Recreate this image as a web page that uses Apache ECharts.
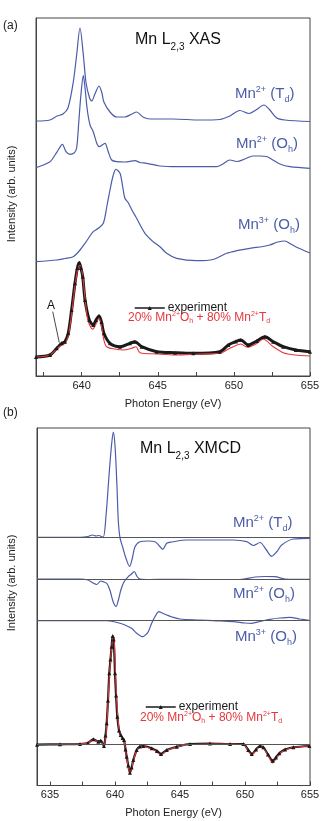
<!DOCTYPE html>
<html>
<head>
<meta charset="UTF-8">
<title>Mn L2,3 XAS / XMCD</title>
<script src="https://cdn.jsdelivr.net/npm/echarts@6/dist/echarts.min.js"></script>
<style>
  html, body { margin: 0; padding: 0; background: #fff; }
  #main { width: 323px; height: 821px; }
</style>
</head>
<body>
<div id="main"></div>
<script>
// ---- panel (a): XAS, [photon energy eV, intensity arb.] ----
var xasTd = [[637.00,255],[637.92,256],[638.38,260],[638.77,262],[639.10,268],[639.45,294],[639.67,321],[639.89,348],[640.11,321],[640.28,294],[640.50,279],[640.66,275],[640.87,282],[641.14,290],[641.33,283],[641.46,274],[641.86,264],[642.30,259],[642.84,259],[643.30,262],[643.61,264],[644.03,259],[644.49,257],[646.00,257],[647.77,256],[649.08,256.5],[649.74,260],[650.39,265.5],[650.99,262.5],[651.45,266],[651.97,271],[652.36,266],[652.82,258],[653.35,256],[655.00,254.5]];
var xasOh = [[637.00,208.3],[637.92,214.3],[638.25,221],[638.46,226],[638.73,231.7],[638.97,224.3],[639.23,221.7],[639.50,223],[639.67,228],[639.82,256],[639.95,281],[640.11,300.3],[640.22,288],[640.37,266],[640.55,251],[640.76,244.3],[641.01,232],[641.16,229.3],[641.53,232.7],[641.73,225],[641.97,216],[642.30,214.3],[642.84,214],[643.50,215.3],[643.83,213.5],[644.27,212.7],[645.14,210],[646.24,209.3],[647.77,209.3],[648.86,209.3],[649.28,212],[649.74,216],[650.20,214.5],[650.72,217],[651.25,220],[651.71,220],[652.15,219.5],[652.56,216],[653.02,212],[653.68,209.3],[655.00,207.7]];
var xasMn3 = [[637.00,114.3],[638.36,116],[638.90,117.5],[639.45,119.3],[639.89,126],[640.22,132.7],[640.76,144.3],[641.09,147.7],[641.42,152.7],[641.66,170],[641.86,186],[642.06,200],[642.25,206.7],[642.52,202.7],[642.71,188],[642.84,177.7],[643.06,173.3],[643.30,166],[643.61,157.7],[644.16,142.7],[644.70,134.3],[645.14,129.3],[645.58,122.7],[646.24,117.7],[647.55,115.3],[648.64,116.5],[649.52,122.7],[650.18,125.3],[651.05,127.7],[651.91,129.5],[652.36,131],[652.89,134],[653.35,135],[653.74,132],[654.12,128.7],[655.00,123]];
var xasExp = [[637.00,19],[637.92,21],[638.36,27.7],[638.69,32.7],[638.90,34.3],[639.12,42.7],[639.34,66],[639.56,92.7],[639.72,108],[639.84,113.3],[639.95,108],[640.07,99.3],[640.22,76],[640.50,56],[640.76,51],[640.94,56],[641.14,60],[641.30,54],[641.46,42.7],[641.86,32.7],[642.52,29.3],[643.17,32.7],[643.50,34.3],[643.94,29.3],[644.93,24.3],[646.13,23.3],[647.33,22.7],[649.08,24.3],[649.63,31],[650.13,34.5],[650.46,36],[650.94,31],[651.51,35],[652.04,39.3],[652.58,34.3],[653.24,29.3],[654.07,26],[655.00,24.3]];
var xasCalc = [[637.00,19],[637.92,21],[638.36,27],[638.69,31],[638.90,32.5],[639.12,40],[639.34,62],[639.56,90],[639.76,108],[639.89,111],[640.07,100],[640.22,78],[640.41,56],[640.72,46.7],[640.94,52],[641.14,57.7],[641.30,50],[641.46,36],[641.64,29.3],[642.19,27],[642.73,26],[643.24,27.5],[643.57,29.3],[643.83,23.3],[644.93,22],[646.13,21],[647.77,22],[649.08,22.7],[649.74,27.7],[650.46,32],[650.88,28.7],[651.45,32],[651.93,36.7],[652.58,29.3],[653.24,23.3],[654.01,21],[655.00,20]];
var arrowA = [[638.10,64.3],[638.53,33.3]];

// ---- panel (b): XMCD ----
var xmcdTd = [[634.00,248.2],[637.31,248.2],[637.92,249],[638.27,250.5],[638.54,249.5],[638.73,250],[639.08,248.2],[639.31,270],[639.54,310],[639.73,340],[639.87,353.5],[640.00,340],[640.15,300],[640.25,265.5],[640.38,248.2],[640.62,237],[640.85,227],[641.12,219],[641.31,226],[641.54,238.8],[641.92,243.8],[642.54,244.5],[643.08,243.8],[643.38,240],[643.67,236.2],[643.98,242.2],[644.38,243.5],[645.52,245.5],[647.31,245.5],[649.10,245.5],[650.13,243.8],[650.64,240],[651.15,243],[651.62,236],[652.05,229.2],[652.46,234],[652.82,240.5],[653.72,246.5],[655.00,247.2]];
var xmcdOh = [[634.00,206.5],[637.31,206.5],[637.92,205.5],[638.31,202.5],[638.59,201],[638.90,204.5],[639.15,203.5],[639.38,202],[639.62,195],[639.85,184],[640.08,179],[640.27,186],[640.46,196],[640.69,203.5],[641.02,208.8],[641.23,211],[641.48,214],[641.69,209],[641.92,206.5],[642.69,206],[643.98,206.2],[646.54,206],[649.62,206],[650.77,208.5],[651.54,209],[652.31,208.8],[653.08,206.5],[655.00,206.2]];
var xmcdMn3 = [[634.00,164.8],[639.36,164.8],[639.85,164],[640.38,162.2],[640.85,160],[641.28,157.2],[641.67,152.2],[642.13,148.8],[642.38,151],[642.56,153.8],[642.82,162.2],[643.08,169],[643.38,173.8],[643.62,172.5],[643.98,170.5],[644.38,168.5],[645.00,166.5],[646.54,165.5],[647.56,164.8],[649.10,163.8],[650.00,162.5],[650.52,162.2],[651.15,164],[651.92,166.2],[652.69,167.5],[653.46,168.2],[654.23,166.5],[655.00,165]];
var xmcdExp = [[634.00,40.8],[635.77,41.2],[637.31,41.5],[637.92,42.5],[638.33,46.2],[638.72,43.8],[638.90,44.8],[639.15,39.5],[639.27,50],[639.36,62.2],[639.46,85],[639.56,112.2],[639.65,126],[639.74,138.8],[639.82,149.5],[639.90,146],[640.00,112.2],[640.08,90],[640.18,68.8],[640.31,55],[640.44,50.5],[640.58,47.5],[640.69,45.5],[640.81,36],[640.90,28.8],[641.02,20],[641.15,12.8],[641.28,18],[641.41,25.5],[641.67,35.5],[641.92,39],[642.18,39.5],[642.82,37.2],[643.23,34.5],[643.54,31.5],[643.98,35.5],[644.75,38.8],[645.77,41.5],[647.31,42],[648.85,41.5],[649.87,41.5],[650.25,35.5],[650.52,31.5],[650.85,36],[651.15,39.5],[651.41,38.2],[651.77,31],[652.13,24.8],[652.38,28],[652.64,32.2],[653.08,36],[653.72,38.2],[654.95,39.5]];
var xmcdCalc = [[634.00,41],[635.77,41.2],[637.31,41.5],[637.92,42.5],[638.33,46],[638.72,43.5],[638.90,44.5],[639.15,40],[639.27,48],[639.36,60],[639.46,82],[639.56,108],[639.65,124],[639.74,138],[639.87,149],[639.95,142],[640.04,112],[640.12,88],[640.22,68],[640.33,55],[640.46,50],[640.58,47],[640.69,45],[640.81,35],[640.90,27.5],[641.02,19],[641.15,12],[641.28,17],[641.41,25],[641.67,35],[641.92,38.5],[642.18,39],[642.82,36.5],[643.23,33.5],[643.54,30.5],[643.98,35],[644.75,38.5],[645.77,41],[647.31,41.5],[648.85,41.5],[649.87,41],[650.25,34.5],[650.52,30.5],[650.85,35.5],[651.15,39],[651.41,37.5],[651.77,30],[652.13,22.5],[652.38,26.5],[652.64,31.5],[653.08,35.5],[653.72,38],[654.95,39.5]];
var xmcdBaselines = [248.2, 206.5, 164.8, 41.5];

var FONT = "'Liberation Sans', Arial, sans-serif";
var BLUE = '#4b5ca8';
var RED = '#e4373c';
var INK = '#1a1a1a';

var myChart = echarts.init(document.getElementById('main'), null, { renderer: 'canvas' });

function rtext(x, y, text, color, size, lh, supOff, subH) {
	return {
		type: 'text', x: x, y: y, silent: true,
		style: {
			text: text, fill: color, fontSize: size, fontFamily: FONT,
			lineHeight: lh, align: 'left', verticalAlign: 'middle',
			rich: {
				sup: { fontSize: Math.round(size * 0.6), verticalAlign: 'top', fill: color, fontFamily: FONT },
				sub: { fontSize: Math.round(size * 0.62), verticalAlign: 'bottom', height: subH, fill: color, fontFamily: FONT }
			}
		}
	};
}

function xAxisOf(grid, min) {
	return {
		gridIndex: grid, type: 'value', min: min, max: 655, splitNumber: 4,
		axisLine: { show: true, lineStyle: { color: '#444', width: 1 } },
		axisTick: { show: true, inside: true, length: 4, lineStyle: { color: '#444' } },
		minorTick: { show: true, splitNumber: 2, length: 4, lineStyle: { color: '#444' } },
		splitLine: { show: false },
		axisLabel: {
			color: '#222', fontSize: 11, fontFamily: FONT, margin: 4,
			formatter: function (v) { return v % 5 === 0 ? String(v) : ''; }
		},
		name: 'Photon Energy (eV)', nameLocation: 'middle', nameGap: 22,
		nameTextStyle: { color: '#222', fontSize: 11, fontFamily: FONT }
	};
}

function yAxisOf(grid, max) {
	return {
		gridIndex: grid, type: 'value', min: 0, max: max,
		axisLine: { show: true, lineStyle: { color: '#444' } },
		axisTick: { show: false }, axisLabel: { show: false }, splitLine: { show: false }
	};
}

function blue(grid, data, baseline) {
	var s = {
		type: 'line', xAxisIndex: grid, yAxisIndex: grid, data: data,
		showSymbol: false, smooth: 0.3, silent: true,
		lineStyle: { color: BLUE, width: 1.2 }
	};
	if (baseline !== undefined) {
		s.markLine = {
			silent: true, symbol: 'none', label: { show: false },
			lineStyle: { color: '#555', width: 1, type: 'solid' },
			data: [{ yAxis: baseline }]
		};
	}
	return s;
}

var option = {
	animation: false,
	backgroundColor: '#fff',
	grid: [
		{ left: 36, top: 18, width: 274, height: 358, show: true, borderColor: '#444', borderWidth: 1, backgroundColor: 'transparent' },
		{ left: 37, top: 428, width: 273, height: 357.5, show: true, borderColor: '#444', borderWidth: 1, backgroundColor: 'transparent' }
	],
	xAxis: [xAxisOf(0, 637), xAxisOf(1, 634)],
	yAxis: [yAxisOf(0, 358), yAxisOf(1, 357.5)],
	legend: [
		{ data: ['experiment'], left: 129, top: 297, itemWidth: 30, itemHeight: 5, itemGap: 0,
		  textStyle: { color: INK, fontSize: 12, fontFamily: FONT, padding: [0, 0, 0, -2] },
		  lineStyle: { width: 1.5, color: INK }, itemStyle: { color: INK }, selectedMode: false },
		{ data: ['experiment'], left: 140, top: 696, itemWidth: 30, itemHeight: 5, itemGap: 0,
		  textStyle: { color: INK, fontSize: 12, fontFamily: FONT, padding: [0, 0, 0, -2] },
		  lineStyle: { width: 1.5, color: INK }, itemStyle: { color: INK }, selectedMode: false }
	],
	series: [
		blue(0, xasTd), blue(0, xasOh), blue(0, xasMn3),
		{
			name: 'experiment', type: 'line', xAxisIndex: 0, yAxisIndex: 0, data: xasExp,
			smooth: 0.3, symbol: 'triangle', symbolSize: 4, showAllSymbol: true,
			lineStyle: { color: INK, width: 3 }, itemStyle: { color: INK },
			markLine: {
				silent: true, symbol: ['none', 'arrow'], symbolSize: [0, 6], label: { show: false },
				lineStyle: { color: INK, width: 0.8, type: 'solid' },
				data: [[{ coord: arrowA[0] }, { coord: arrowA[1] }]]
			}
		},
		{
			name: 'calc', type: 'line', xAxisIndex: 0, yAxisIndex: 0, data: xasCalc,
			smooth: 0.3, showSymbol: false, lineStyle: { color: RED, width: 1.1 }
		},
		blue(1, xmcdTd, xmcdBaselines[0]), blue(1, xmcdOh, xmcdBaselines[1]), blue(1, xmcdMn3, xmcdBaselines[2]),
		{
			name: 'experiment', type: 'line', xAxisIndex: 1, yAxisIndex: 1, data: xmcdExp,
			smooth: 0.3, symbol: 'triangle', symbolSize: 4, showAllSymbol: true,
			lineStyle: { color: INK, width: 2.2 }, itemStyle: { color: INK },
			markLine: {
				silent: true, symbol: 'none', label: { show: false },
				lineStyle: { color: '#555', width: 1, type: 'solid' },
				data: [{ yAxis: xmcdBaselines[3] }]
			}
		},
		{
			name: 'calc', type: 'line', xAxisIndex: 1, yAxisIndex: 1, data: xmcdCalc,
			smooth: 0.3, showSymbol: false, lineStyle: { color: RED, width: 1.1 }
		}
	],
	graphic: [
		rtext(3, 26, '(a)', '#222', 12, 14, 0, 5),
		rtext(135, 40, 'Mn L{sub|2,3} XAS', '#111', 16, 20, 0, 5),
		rtext(235, 94, 'Mn{sup|2+} (T{sub|d})', BLUE, 15, 17, 0, 5),
		rtext(236, 144, 'Mn{sup|2+} (O{sub|h})', BLUE, 15, 17, 0, 5),
		rtext(238, 225, 'Mn{sup|3+} (O{sub|h})', BLUE, 15, 17, 0, 5),
		rtext(128, 318, '20% Mn{sup|2+}O{sub|h} + 80% Mn{sup|2+}T{sub|d}', RED, 12, 14, 0, 8),
		rtext(47, 306, 'A', '#111', 12, 14, 0, 5),
		{ type: 'text', x: 12, y: 194, rotation: Math.PI / 2, silent: true,
		  style: { text: 'Intensity (arb. units)', fill: '#222', fontSize: 11, fontFamily: FONT, align: 'center', verticalAlign: 'middle' } },

		rtext(3, 413, '(b)', '#222', 12, 14, 0, 5),
		rtext(140, 449, 'Mn L{sub|2,3} XMCD', '#111', 16, 20, 0, 5),
		rtext(233, 523, 'Mn{sup|2+} (T{sub|d})', BLUE, 15, 17, 0, 5),
		rtext(233, 594, 'Mn{sup|2+} (O{sub|h})', BLUE, 15, 17, 0, 5),
		rtext(235, 637, 'Mn{sup|3+} (O{sub|h})', BLUE, 15, 17, 0, 5),
		rtext(140, 718, '20% Mn{sup|2+}O{sub|h} + 80% Mn{sup|2+}T{sub|d}', RED, 12, 14, 0, 8),
		{ type: 'text', x: 12, y: 583, rotation: Math.PI / 2, silent: true,
		  style: { text: 'Intensity (arb. units)', fill: '#222', fontSize: 11, fontFamily: FONT, align: 'center', verticalAlign: 'middle' } }
	]
};

myChart.setOption(option);
</script>
</body>
</html>
